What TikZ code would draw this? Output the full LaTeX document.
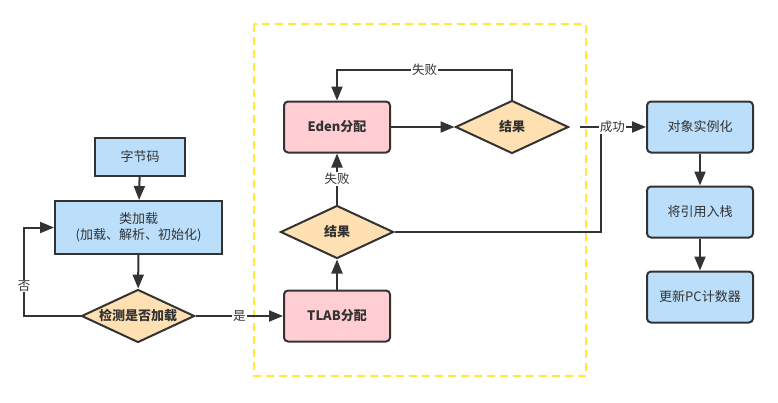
\documentclass[tikz,border=0pt]{standalone}
\usepackage{fontspec}
\setmainfont{Noto Sans CJK SC}
\usetikzlibrary{shapes.geometric,arrows.meta}
\definecolor{lineGray}{HTML}{333333}
\definecolor{boxBlue}{HTML}{BBDEFB}
\definecolor{boxPink}{HTML}{FFCDD2}
\definecolor{boxPeach}{HTML}{FFE0B2}
\definecolor{frameYellow}{HTML}{FFE93B}

\begin{document}
\begin{tikzpicture}[x=1pt,y=-1pt,
		every node/.style={font=\fontsize{13}{16}\selectfont,text=lineGray},
		blueBox/.style={draw=lineGray,line width=2pt,fill=boxBlue,minimum width=106pt,minimum height=51pt,rounded corners=4pt},
		pinkBox/.style={blueBox,fill=boxPink,font=\fontsize{13}{16}\selectfont\bfseries},
		result/.style={diamond,draw=lineGray,line width=2pt,fill=boxPeach,aspect=2.13,inner sep=0pt,minimum width=113pt,minimum height=53pt,font=\fontsize{13}{16}\selectfont\bfseries},
		flow/.style={draw=lineGray,line width=2pt,-{Triangle[length=14pt,width=11pt]}},
		tag/.style={fill=white,inner sep=1pt,font=\fontsize{12.5}{15}\selectfont}]
	\useasboundingbox (0,0) rectangle (778,402);
	%Notation: the dashed frame round the allocation part
	\draw[frameYellow,line width=2pt,dash pattern=on 8pt off 5pt] (254,24) rectangle (586,376);
	
	% Left column: loading
	\node[blueBox,rounded corners=0pt,minimum width=90pt,minimum height=38pt] (bytecode) at (140,157) {字节码};
	\node[blueBox,rounded corners=0pt,minimum width=167pt,minimum height=53pt,align=center] (classload) at (138.5,227.5) {类加载\\(加载、解析、初始化)};
	\node[result] (check) at (138,316) {检测是否加载};
	
	% Middle: allocation
	\node[pinkBox] (tlab) at (337,316) {TLAB分配};
	\node[result] (tlabres) at (337,232) {结果};
	\node[pinkBox] (eden) at (337,127) {Eden分配};
	\node[result] (edenres) at (512,127) {结果};
	
	% Right column: after allocation
	\foreach \name/\y/\txt in {init/127/对象实例化, push/212/将引用入栈, pcupdate/297/更新PC计数器}{
		\node[blueBox] (\name) at (700,\y) {\txt};
	}
	
	% Free ends of the connectors
	\coordinate (noturn) at (24,316);
	\coordinate (failtop) at (512,70);
	\coordinate (join) at (601,127);
	
	\draw[flow] (bytecode) -- (classload);
	\draw[flow] (classload) -- (check);
	\draw[flow] (check.west) -- (noturn) |- node[tag,pos=0.17] {否} (classload.west);
	\draw[flow] (check.east) -- node[tag,pos=0.5] {是} (tlab.west);
	\draw[flow] (tlab) -- (tlabres);
	\draw[flow] (tlabres.north) -- node[tag] {失败} (eden.south);
	\draw[flow] (eden.east) -- (edenres.west);
	\draw[flow] (edenres.north) -- (failtop) -| node[tag,pos=0.25] {失败} (eden.north);
	\draw[draw=lineGray,line width=2pt] (tlabres.east) -| (join);
	\draw[flow,shorten <=10pt] (edenres.east) -- node[tag,pos=0.56] {成功} (init.west);
	\draw[flow] (init) -- (push);
	\draw[flow] (push) -- (pcupdate);
\end{tikzpicture}
\end{document}
